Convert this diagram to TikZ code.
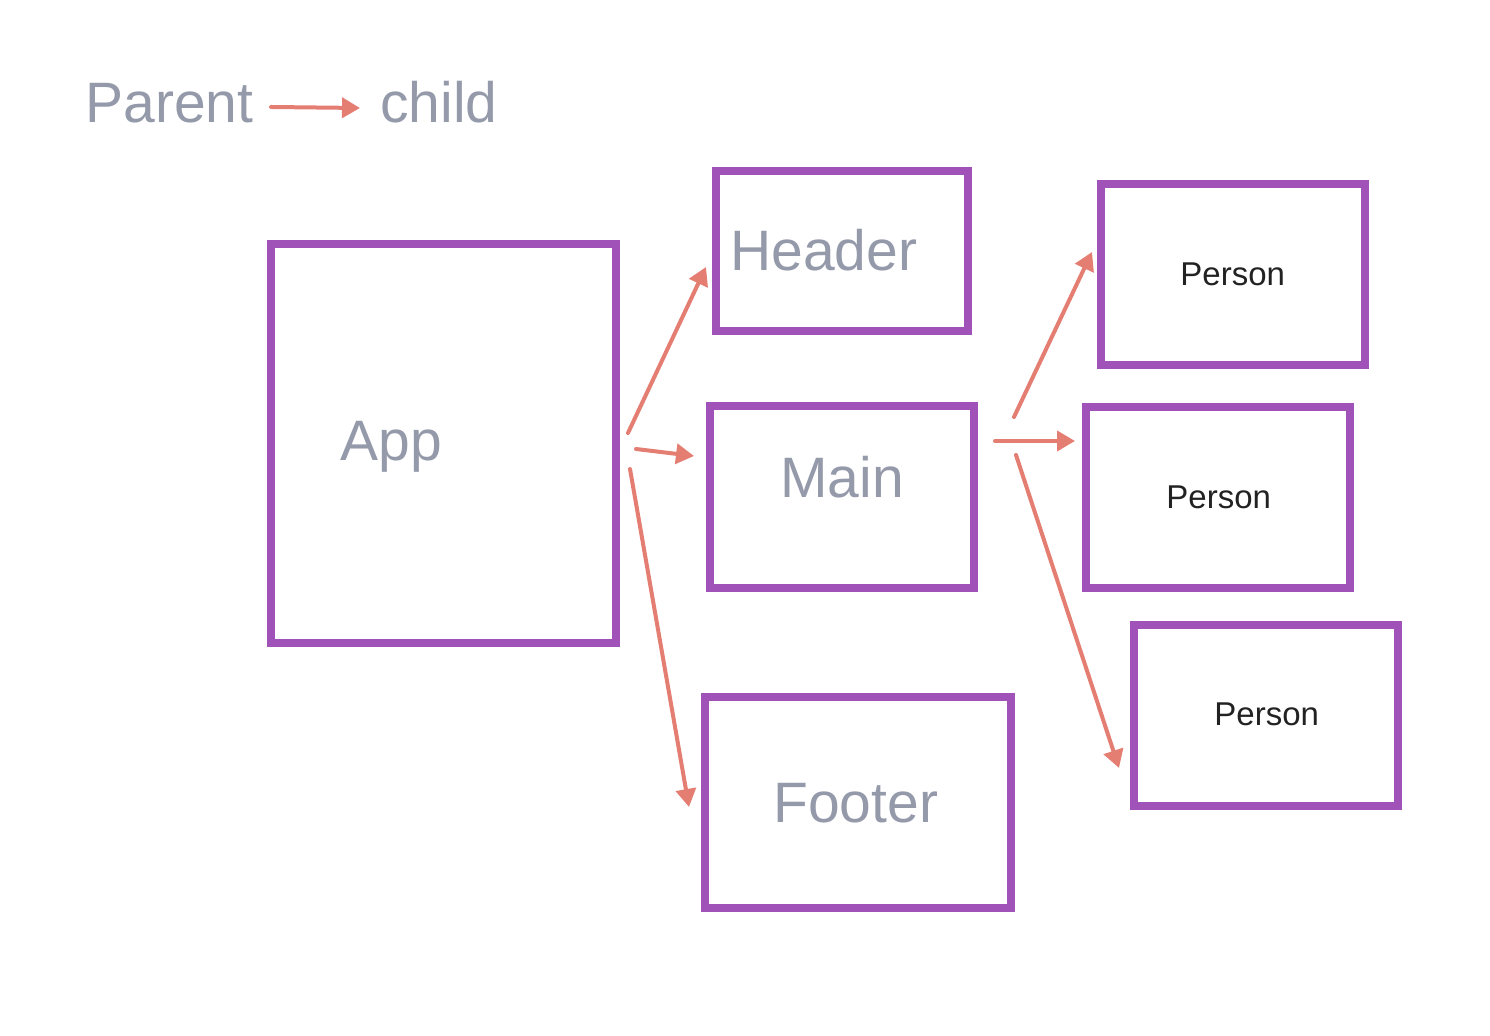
\documentclass[tikz,border=0pt]{standalone}
\usepackage{fontspec}
\setmainfont{Liberation Sans}
\usetikzlibrary{arrows.meta}
\definecolor{boxpurple}{HTML}{A052B8}
\definecolor{arrowred}{HTML}{E57E72}
\definecolor{labelgray}{HTML}{959AAA}
\definecolor{darktext}{HTML}{222222}
\begin{document}
\begin{tikzpicture}[x=0.5pt,y=-0.5pt,
  compbox/.style={draw=boxpurple,line width=4pt,inner sep=0pt},
  biglabel/.style={text=labelgray,font=\fontsize{28.5}{30}\selectfont,anchor=base west,inner sep=0pt},
  smalllabel/.style={text=darktext,font=\fontsize{16.5}{18}\selectfont,anchor=base west,inner sep=0pt},
  link/.style={draw=arrowred,line width=2pt,line cap=round,-{Triangle[length=9pt,width=10pt]}}]
\useasboundingbox (0,0) rectangle (1490,1036);
% boxes
\draw[compbox] (271,244) rectangle (616,643);
\draw[compbox] (716,171) rectangle (968,331);
\draw[compbox] (710,406) rectangle (974,588);
\draw[compbox] (705,697) rectangle (1011,908);
\draw[compbox] (1101,184) rectangle (1365,365);
\draw[compbox] (1086,407) rectangle (1350,588);
\draw[compbox] (1134,625) rectangle (1398,806);
% labels
\node[biglabel] (parent) at (85,123) {Parent};
\node[biglabel] (child) at (380,123) {child};
\node[biglabel] (app) at (340,461) {App};
\node[biglabel] (header) at (730,271) {Header};
\node[biglabel] (main) at (780,498) {Main};
\node[biglabel] (footer) at (773,823) {Footer};
\node[smalllabel] (p1) at (1180,286) {Person};
\node[smalllabel] (p2) at (1166,509) {Person};
\node[smalllabel] (p3) at (1214,726) {Person};
% connector endpoints
\coordinate (la) at (271,107);
\coordinate (lb) at (360,108);
\coordinate (ah0) at (628,433); \coordinate (ah1) at (706,267);
\coordinate (am0) at (636,449); \coordinate (am1) at (694,456);
\coordinate (af0) at (630,469); \coordinate (af1) at (689,807);
\coordinate (mp10) at (1014,417); \coordinate (mp11) at (1092,252);
\coordinate (mp20) at (995,441); \coordinate (mp21) at (1075,441);
\coordinate (mp30) at (1016,455); \coordinate (mp31) at (1119,768);
% connectors
\draw[link] (la) -- (lb);
\draw[link] (ah0) -- (ah1);
\draw[link] (am0) -- (am1);
\draw[link] (af0) -- (af1);
\draw[link] (mp10) -- (mp11);
\draw[link] (mp20) -- (mp21);
\draw[link] (mp30) -- (mp31);
\end{tikzpicture}
\end{document}
